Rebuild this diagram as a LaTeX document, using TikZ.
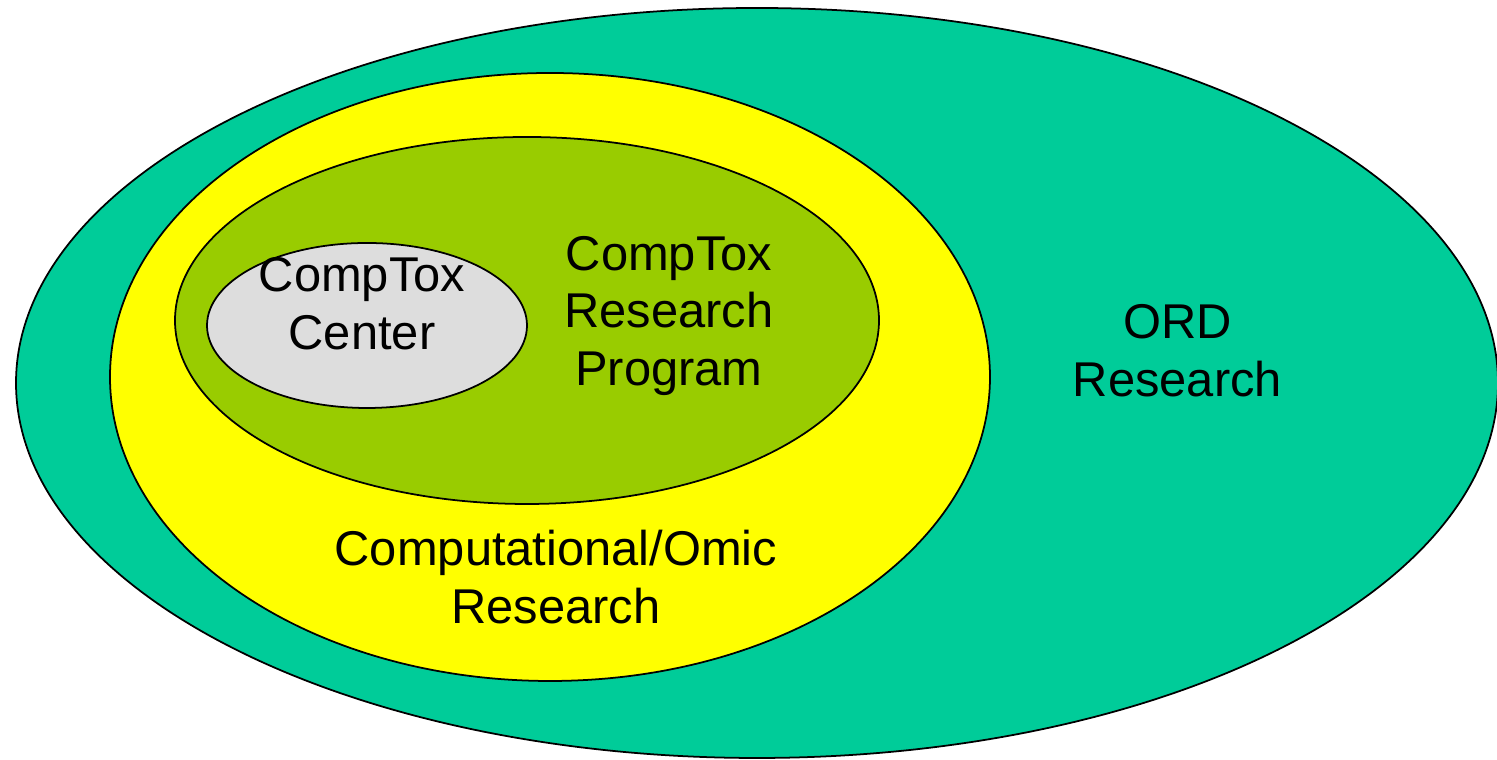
\documentclass[tikz,border=0pt]{standalone}
\usepackage{fontspec}
\setmainfont{Liberation Sans}
\usepackage{xcolor}
\definecolor{ordTeal}{HTML}{00CC99}
\definecolor{omicYellow}{HTML}{FFFF00}
\definecolor{progGreen}{HTML}{99CC00}
\definecolor{centerGray}{HTML}{DDDDDD}
\usepackage{tikz}
\usetikzlibrary{shapes.geometric,positioning}
\tikzset{
    ring/.style={
        draw=black,
        ellipse,
        line width=0.5pt,
        inner sep=0pt
    },
    label/.style={
        align=center,
        font=\fontsize{13.9pt}{16.4pt}\selectfont,
        inner sep=0pt
    }
}

\begin{document}
\begin{tikzpicture}
    \useasboundingbox (0,0) rectangle (14.97,7.60);

    % Nested areas
    \node[ring, fill=ordTeal, minimum width=14.82cm, minimum height=7.50cm] (ord) at (7.57,3.77) {};
    \node[ring, fill=omicYellow, minimum width=8.80cm, minimum height=6.08cm] (omic) at (5.50,3.83) {};
    \node[ring, fill=progGreen, minimum width=7.04cm, minimum height=3.67cm] (program) at (5.27,4.395) {};
    \node[ring, fill=centerGray, minimum width=3.20cm, minimum height=1.65cm] (center) at (3.67,4.345) {};

    % Labels
    \node[label] (centerlbl) at (3.62,4.56) {CompTox\\Center};
    \node[label] (programlbl) at (6.69,4.44) {CompTox\\Research\\Program};
    \node[label] (omiclbl) at (5.56,1.83) {Computational/Omic\\Research};
    \node[label] (ordlbl) at (11.775,4.09) {ORD\\Research};
\end{tikzpicture}
\end{document}
